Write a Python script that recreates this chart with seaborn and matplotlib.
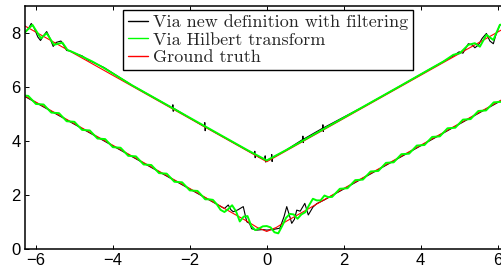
import numpy as np
import pandas as pd
import matplotlib
matplotlib.use("Agg")
import matplotlib.pyplot as plt
import seaborn as sns
from matplotlib.lines import Line2D

# ground truth (red)
gt_x = [-6.3, -5, -4, -3, -2, -1, -0.5, -0.25, 0, 0.25, 0.5, 1, 2, 3, 4, 5, 6.3]
gt_upper = [8.27, 7.23, 6.43, 5.63, 4.83, 4.03, 3.63, 3.43, 3.23, 3.43, 3.63, 4.03, 4.83, 5.63, 6.43, 7.23, 8.27]
gt_lower = [5.68, 4.64, 3.84, 3.04, 2.24, 1.42, 1.02, 0.80, 0.65, 0.80, 1.02, 1.42, 2.24, 3.04, 3.84, 4.64, 5.68]

# Hilbert transform (green), upper branch
hil_up_x = [-6.3, -6.09, -5.87, -5.72, -5.53, -5.31, -5.18, -5.01, -4.79, -4.53, -4.23, -3.5, -2.5,
            -1.5, -0.5, 0.0, 0.5, 1.5, 2.5, 3.5, 4.24, 4.59, 4.85, 5.02, 5.24, 5.41, 5.54, 5.71,
            5.89, 6.06, 6.3]
hil_up_y = [8.0, 8.30, 7.80, 7.99, 7.56, 7.64, 7.37, 7.27, 7.12, 6.94, 6.70, 6.06, 5.26,
            4.46, 3.66, 3.28, 3.66, 4.46, 5.26, 6.06, 6.66, 6.94, 7.19, 7.25, 7.56, 7.62, 7.49, 7.93,
            7.74, 8.30, 8.35]

# Hilbert transform (green), lower branch, sampled every 0.1
hil_lo_x = np.round(np.linspace(-6.3, 6.3, 127), 2)
hil_lo_y = [5.68, 5.67, 5.52, 5.37, 5.36, 5.35, 5.20, 5.05, 5.04, 5.03,
            4.88, 4.73, 4.72, 4.71, 4.56, 4.41, 4.40, 4.39, 4.24, 4.09,
            4.08, 4.07, 3.92, 3.77, 3.76, 3.75, 3.60, 3.45, 3.44, 3.43,
            3.28, 3.13, 3.12, 3.11, 2.96, 2.81, 2.80, 2.79, 2.64, 2.49,
            2.48, 2.47, 2.32, 2.17, 2.16, 2.15, 2.00, 1.84, 1.84, 1.82,
            1.66, 1.45, 1.37, 1.48, 1.62, 1.40, 1.02, 1.20, 1.22, 0.85,
            0.70, 0.76, 0.84, 0.85, 0.80, 0.62, 0.58, 0.85, 1.15, 1.30,
            1.28, 1.12, 1.28, 1.36, 1.62, 1.86, 1.80, 1.80, 1.98, 1.92,
            1.93, 2.08, 2.23, 2.24, 2.25, 2.40, 2.55, 2.56, 2.57, 2.72,
            2.87, 2.88, 2.89, 3.04, 3.19, 3.20, 3.21, 3.36, 3.51, 3.52,
            3.53, 3.68, 3.83, 3.84, 3.85, 4.00, 4.15, 4.16, 4.17, 4.32,
            4.47, 4.48, 4.49, 4.64, 4.79, 4.80, 4.81, 4.96, 5.11, 5.12,
            5.13, 5.28, 5.43, 5.44, 5.45, 5.60, 5.75]

# new definition with filtering (black), upper branch
new_up_x = [-6.3, -6.2, -6.12, -6.05, -5.95, -5.88, -5.8, -5.72, -5.65, -5.55, -5.47, -5.35, -5.28,
            -5.2, -5.1, -5.0, -4.9, -4.8, -4.65, -4.5, -4.23, -3.5, -2.45, -2.44, -2.43, -2.42,
            -1.62, -1.61, -1.60, -1.59, -0.32, -0.31, -0.30, -0.29, -0.2, -0.05, -0.04, -0.03,
            0.0, 0.12, 0.13, 0.14, 0.15, 0.5, 0.93, 0.94, 0.95, 0.96, 1.45, 1.46, 1.47, 1.48,
            2.5, 3.5, 4.24, 4.59, 4.85, 5.0, 5.1, 5.24, 5.35, 5.41, 5.5, 5.6, 5.71, 5.8, 5.89,
            5.95, 6.06, 6.3]
new_up_y = [7.98, 8.15, 8.35, 8.2, 7.85, 7.72, 7.9, 8.05, 7.85, 7.5, 7.65, 7.7, 7.55,
            7.35, 7.33, 7.25, 7.2, 7.15, 7.0, 6.9, 6.72, 6.06, 5.22, 5.34, 5.10, 5.21,
            4.53, 4.68, 4.38, 4.52, 3.51, 3.62, 3.38, 3.50, 3.40, 3.32, 3.45, 3.22,
            3.28, 3.36, 3.50, 3.24, 3.38, 3.66, 4.05, 4.18, 3.94, 4.07, 4.47, 4.60, 4.35, 4.49,
            5.26, 6.06, 6.66, 6.94, 7.15, 7.3, 7.25, 7.6, 7.55, 7.45, 7.55, 7.8, 7.98, 7.7, 7.6,
            7.9, 8.3, 8.3]

# new definition with filtering (black), lower branch
new_lo_x = [-6.3, -5.5, -4.5, -3.5, -2.5, -1.5, -1.2, -1.1, -1.0, -0.93, -0.87, -0.75, -0.61,
            -0.52, -0.45, -0.39, -0.26, -0.1, 0.0, 0.15, 0.34, 0.45, 0.52, 0.6, 0.65, 0.72,
            0.78, 0.87, 0.99, 1.08, 1.2, 1.3, 1.5, 2.5, 3.5, 4.5, 5.5, 6.3]
new_lo_y = [5.66, 5.02, 4.22, 3.42, 2.62, 1.82, 1.58, 1.50, 1.63, 1.45, 1.38, 1.45, 1.57,
            1.01, 0.95, 0.75, 0.70, 0.72, 0.70, 0.72, 0.77, 1.20, 1.57, 1.20, 0.95, 1.10,
            1.44, 1.40, 1.69, 1.26, 1.55, 1.68, 1.82, 2.62, 3.42, 4.22, 5.02, 5.66]

labels = ["Via new definition with filtering", "Via Hilbert transform", "Ground truth"]
colors = ["black", "#00ff00", "red"]

sns.set_style("ticks")
plt.rcParams["font.family"] = ["Liberation Sans", "DejaVu Sans"]

fig = plt.figure(figsize=(5.01, 2.69), dpi=100)
ax = fig.add_axes([0.0499, 0.0743, 0.965, 0.9037])

kw = dict(ax=ax, sort=False, estimator=None, legend=False)
sns.lineplot(x=new_up_x, y=new_up_y, color=colors[0], lw=0.8, **kw)
sns.lineplot(x=new_lo_x, y=new_lo_y, color=colors[0], lw=0.8, **kw)
sns.lineplot(x=gt_x, y=gt_upper, color=colors[2], lw=0.8, **kw)
sns.lineplot(x=gt_x, y=gt_lower, color=colors[2], lw=0.8, **kw)
sns.lineplot(x=hil_up_x, y=hil_up_y, color=colors[1], lw=1.4, **kw)
sns.lineplot(x=hil_lo_x, y=hil_lo_y, color=colors[1], lw=1.4, **kw)

ax.set_xlim(-2 * np.pi, 2 * np.pi)
ax.set_ylim(0, 9)
ax.set_xticks([-6, -4, -2, 0, 2, 4, 6])
ax.set_yticks([0, 2, 4, 6, 8])
ax.tick_params(direction="in", length=3, width=0.7, top=True, right=True,
               labelsize=12, pad=3, colors="black")
for s in ax.spines.values():
    s.set_linewidth(1.1)
    s.set_color("black")

handles = [Line2D([], [], color=c, lw=1.0) for c in colors]
leg = ax.legend(handles, labels, loc="upper left", bbox_to_anchor=(0.203, 0.984),
                borderaxespad=0, fancybox=False, framealpha=1, edgecolor="black",
                prop={"family": "cmr10", "size": 13}, handlelength=1.1,
                handletextpad=0.3, labelspacing=0.1, borderpad=0.25)
leg.get_frame().set_linewidth(1.0)

fig.savefig("out.png", dpi=100)
